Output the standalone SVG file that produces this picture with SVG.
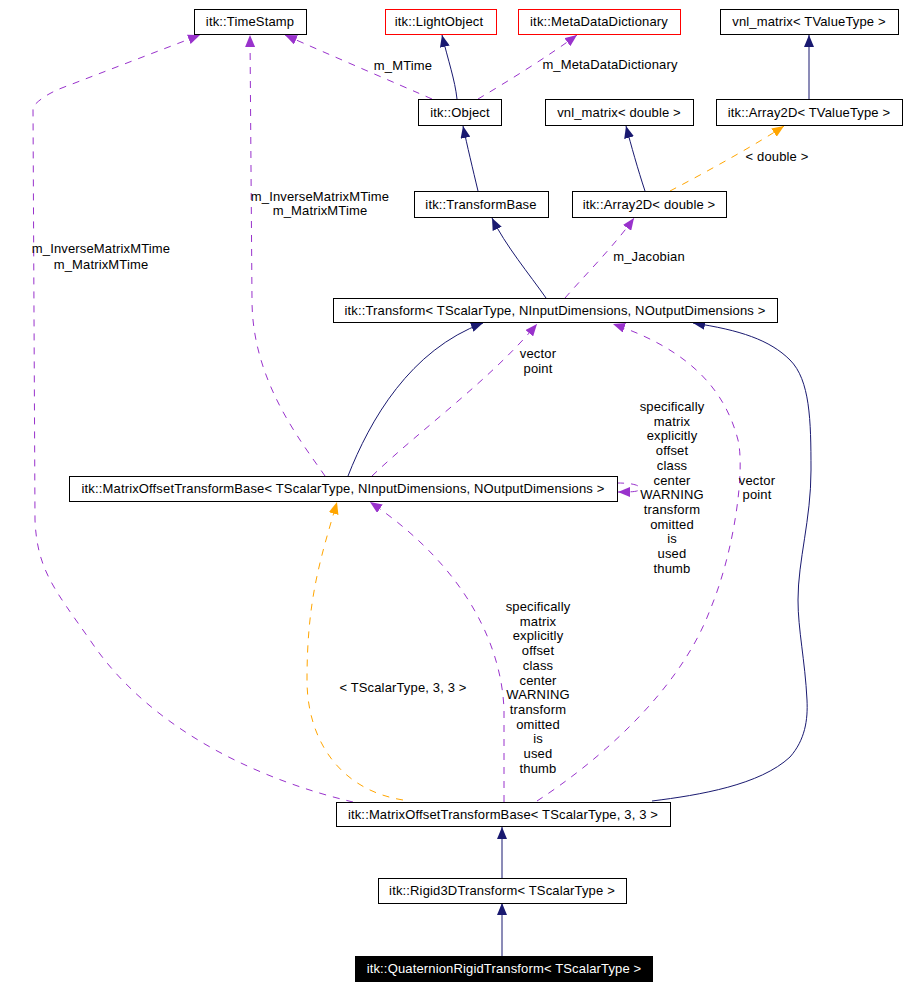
<svg xmlns="http://www.w3.org/2000/svg" width="910" height="988" viewBox="0 0 910 988">
<style>
.n rect{fill:#fff;stroke:#000;stroke-width:1}
.n.red rect{stroke:#f00}
.n.cur rect{fill:#000}
text{font-family:"Liberation Sans",Arial,sans-serif;font-size:13px;letter-spacing:0.15px;fill:#000;text-anchor:middle}
.n.cur text{fill:#fff}
.e{fill:none;stroke-width:1}
.inh{stroke:#191970;marker-end:url(#aN)}
.use{stroke:#9932cc;stroke-dasharray:7,7;marker-end:url(#aP)}
.tpl{stroke:#ffa500;stroke-dasharray:7,7;marker-end:url(#aO)}
</style>
<defs>
<marker id="aN" markerUnits="userSpaceOnUse" markerWidth="13" markerHeight="10" refX="12" refY="5" orient="auto"><path d="M0,0 L12,5 L0,10 z" fill="#191970"/></marker>
<marker id="aP" markerUnits="userSpaceOnUse" markerWidth="13" markerHeight="10" refX="12" refY="5" orient="auto"><path d="M0,0 L12,5 L0,10 z" fill="#9932cc"/></marker>
<marker id="aO" markerUnits="userSpaceOnUse" markerWidth="13" markerHeight="10" refX="12" refY="5" orient="auto"><path d="M0,0 L12,5 L0,10 z" fill="#ffa500"/></marker>
</defs>
<rect width="910" height="988" fill="#fff"/>
<g id="edges">
<path class="e inh" d="M457,99 C455,80 448,60 442,35"/>
<path class="e use" d="M432,99 C400,85 330,55 285,35"/>
<path class="e use" d="M478,99 C510,80 550,55 577,35"/>
<path class="e inh" d="M478,191 C473,170 467,145 463,126"/>
<path class="e inh" d="M645,191 C638,170 631,145 626,126"/>
<path class="e tpl" d="M670,191 C710,170 755,145 784,126"/>
<path class="e inh" d="M809,99 L809,35"/>
<path class="e inh" d="M546,298 C530,275 505,245 492,218"/>
<path class="e use" d="M565,298 C585,275 615,245 634,218"/>
<path class="e inh" d="M348,476 C370,420 410,350 483,323"/>
<path class="e use" d="M372,476 C420,430 490,380 537,324"/>
<path class="e use" d="M325,476 C300,440 252,380 252,300 L250,35"/>
<path class="e use" d="M617,483 C635,483 642,486 639,490 C637,492 628,492 618,492"/>
<path class="e use" d="M353,802 C260,780 150,730 90,640 C55,590 37,570 35,520 L33,107 C38,100 50,92 67,86 L200,35"/>
<path class="e tpl" d="M403,800 C340,790 307,740 307,680 C307,600 320,560 337,502"/>
<path class="e use" d="M504,802 L504,710 C502,650 470,570 370,502"/>
<path class="e use" d="M537,801 C600,760 680,690 710,610 C735,550 745,470 738,440 C725,390 690,350 613,324"/>
<path class="e inh" d="M652,801 C700,795 760,785 790,757 C805,740 808,720 807,700 C805,660 798,630 798,600 C798,560 811,520 811,470 C811,420 810,380 790,360 C770,340 740,330 693,323"/>
<path class="e inh" d="M502,878 L502,827"/>
<path class="e inh" d="M502,956 L502,903"/>
</g>
<g id="edge-labels">
<text x="403" y="70">m_MTime</text>
<text x="610" y="69">m_MetaDataDictionary</text>
<text x="777" y="161">&lt; double &gt;</text>
<text x="649" y="261">m_Jacobian</text>
<text x="320" y="201">m_InverseMatrixMTime</text>
<text x="320" y="215">m_MatrixMTime</text>
<text x="101" y="253">m_InverseMatrixMTime</text>
<text x="101" y="269">m_MatrixMTime</text>
<text x="538" y="358">vector</text>
<text x="538" y="373">point</text>
<text x="757" y="485">vector</text>
<text x="757" y="499">point</text>
<text x="403" y="692">&lt; TScalarType, 3, 3 &gt;</text>
<g>
<text x="672" y="411">specifically</text>
<text x="672" y="426">matrix</text>
<text x="672" y="440">explicitly</text>
<text x="672" y="455">offset</text>
<text x="672" y="470">class</text>
<text x="672" y="485">center</text>
<text x="672" y="499">WARNING</text>
<text x="672" y="514">transform</text>
<text x="672" y="529">omitted</text>
<text x="672" y="543">is</text>
<text x="672" y="558">used</text>
<text x="672" y="573">thumb</text>
</g>
<g>
<text x="538" y="611">specifically</text>
<text x="538" y="626">matrix</text>
<text x="538" y="640">explicitly</text>
<text x="538" y="655">offset</text>
<text x="538" y="670">class</text>
<text x="538" y="685">center</text>
<text x="538" y="699">WARNING</text>
<text x="538" y="714">transform</text>
<text x="538" y="729">omitted</text>
<text x="538" y="743">is</text>
<text x="538" y="758">used</text>
<text x="538" y="773">thumb</text>
</g>
</g>
<g id="TimeStamp" class="n"><rect x="194.5" y="9.5" width="112" height="25"/><text x="250" y="26">itk::TimeStamp</text></g>
<g id="LightObject" class="n red"><rect x="385.5" y="9.5" width="111" height="25"/><text x="439" y="26">itk::LightObject</text></g>
<g id="MetaDataDictionary" class="n red"><rect x="518.5" y="9.5" width="162" height="25"/><text x="599" y="26">itk::MetaDataDictionary</text></g>
<g id="vnl_matrix_T" class="n"><rect x="720.5" y="9.5" width="178" height="25"/><text x="809" y="26">vnl_matrix&lt; TValueType &gt;</text></g>
<g id="Object" class="n"><rect x="418.5" y="99.5" width="83" height="26"/><text x="460" y="117">itk::Object</text></g>
<g id="vnl_matrix_double" class="n"><rect x="545.5" y="99.5" width="148" height="26"/><text x="619" y="117">vnl_matrix&lt; double &gt;</text></g>
<g id="Array2D_T" class="n"><rect x="716.5" y="99.5" width="186" height="26"/><text x="809" y="117">itk::Array2D&lt; TValueType &gt;</text></g>
<g id="TransformBase" class="n"><rect x="414.5" y="191.5" width="134" height="26"/><text x="481" y="209">itk::TransformBase</text></g>
<g id="Array2D_double" class="n"><rect x="572.5" y="191.5" width="154" height="26"/><text x="649" y="209">itk::Array2D&lt; double &gt;</text></g>
<g id="Transform" class="n"><rect x="333.5" y="298.5" width="444" height="24"/><text x="555" y="315">itk::Transform&lt; TScalarType, NInputDimensions, NOutputDimensions &gt;</text></g>
<g id="MatrixOffsetTransformBase_N" class="n"><rect x="69.5" y="476.5" width="548" height="25"/><text x="343" y="493">itk::MatrixOffsetTransformBase&lt; TScalarType, NInputDimensions, NOutputDimensions &gt;</text></g>
<g id="MatrixOffsetTransformBase_33" class="n"><rect x="336.5" y="802.5" width="334" height="24"/><text x="503" y="819">itk::MatrixOffsetTransformBase&lt; TScalarType, 3, 3 &gt;</text></g>
<g id="Rigid3DTransform" class="n"><rect x="378.5" y="878.5" width="248" height="25"/><text x="502" y="895">itk::Rigid3DTransform&lt; TScalarType &gt;</text></g>
<g id="QuaternionRigidTransform" class="n cur"><rect x="355.5" y="956.5" width="297" height="25"/><text x="504" y="973">itk::QuaternionRigidTransform&lt; TScalarType &gt;</text></g>
</svg>
